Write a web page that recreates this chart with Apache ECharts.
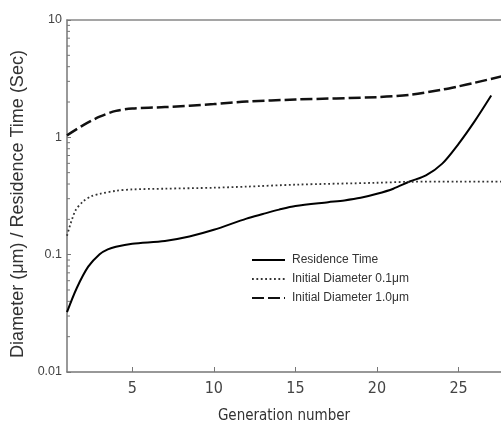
<!DOCTYPE html>
<html><head><meta charset="utf-8">
<script src="https://cdn.jsdelivr.net/npm/echarts@6/dist/echarts.min.js"></script>
<style>html,body{margin:0;padding:0;background:#fff}#c{width:501px;height:423px}</style>
</head><body><div id="c"></div>
<script>
// Data
const resGen = [1, 1.6, 2.3, 3, 3.5, 4, 5, 7, 8.5, 10, 12, 13, 14, 15, 17, 18, 19, 20, 21, 22, 23, 24, 25, 26, 27];
const resVal = [0.0324, 0.052, 0.079, 0.101, 0.111, 0.117, 0.124, 0.131, 0.143, 0.163, 0.203, 0.222, 0.242, 0.26, 0.28, 0.29, 0.305, 0.33, 0.365, 0.42, 0.474, 0.597, 0.88, 1.38, 2.27];
const d01Gen = [1, 1.5, 2, 2.5, 3, 4, 5, 7, 10, 12, 15, 20, 22, 25, 28];
const d01Val = [0.145, 0.235, 0.285, 0.315, 0.33, 0.35, 0.36, 0.365, 0.372, 0.38, 0.395, 0.41, 0.418, 0.42, 0.42];
const d10Gen = [1, 2, 3, 4, 5, 7, 10, 12, 15, 20, 22, 24, 25, 26, 28];
const d10Val = [1.04, 1.27, 1.5, 1.68, 1.76, 1.81, 1.92, 2.02, 2.1, 2.2, 2.3, 2.55, 2.72, 2.92, 3.4];
const xTickValues = [5, 10, 15, 20, 25];
const yTickLabels = ['0.01', '0.1', '1', '10'];
const yMinorTicks = [0.02,0.03,0.04,0.05,0.06,0.07,0.08,0.09,0.2,0.3,0.4,0.5,0.6,0.7,0.8,0.9,2,3,4,5,6,7,8,9];
const seriesNames = ['Residence Time', 'Initial Diameter 0.1\u03bcm', 'Initial Diameter 1.0\u03bcm'];

const zip = (a, b) => a.map((v, i) => [v, b[i]]);
const axisColor = '#777';
const textColor = '#444';
const font = 'Liberation Sans, Arial, sans-serif';
const narrow = 'Liberation Sans Narrow, DejaVu Sans Condensed, Liberation Sans, sans-serif';
const xMin = 1, xMax = 27.6;

const chart = echarts.init(document.getElementById('c'), null, {renderer: 'canvas'});
chart.setOption({
  animation: false,
  backgroundColor: '#fff',
  grid: {left: 67, top: 20, bottom: 51, right: 0, show: false, containLabel: false, outerBoundsMode: 'none'},
  legend: {
    orient: 'vertical', left: 246, top: 249, itemWidth: 33, itemHeight: 10, itemGap: 7,
    data: seriesNames,
    itemStyle: {opacity: 0},
    textStyle: {fontFamily: font, fontSize: 12, color: '#333', padding: [0, 0, 0, 2]}
  },
  xAxis: [{
    type: 'value', min: xMin, max: xMax,
    name: 'Generation number', nameLocation: 'middle', nameGap: 37,
    nameTextStyle: {fontFamily: narrow, fontSize: 15, color: '#333'},
    axisLine: {lineStyle: {color: axisColor, width: 1.5}},
    axisTick: {inside: true, length: 5, customValues: xTickValues, lineStyle: {color: axisColor}},
    axisLabel: {customValues: xTickValues, margin: 9, fontFamily: narrow, fontSize: 16, color: textColor},
    splitLine: {show: false}
  }, {
    type: 'value', min: xMin, max: xMax, position: 'top',
    axisLine: {show: true, lineStyle: {color: '#888', width: 1.5}},
    axisTick: {show: false}, axisLabel: {show: false}, splitLine: {show: false}
  }],
  yAxis: {
    type: 'log', logBase: 10, min: 0.01, max: 10,
    name: 'Diameter (\u03bcm) / Residence Time (Sec)', nameLocation: 'middle', nameGap: 38,
    nameTextStyle: {fontFamily: font, fontSize: 18, color: '#333', padding: [0, 16, 0, 0]},
    axisLine: {lineStyle: {color: axisColor, width: 1.5}},
    axisTick: {inside: true, length: 4, lineStyle: {color: axisColor}},
    axisLabel: {margin: 5, fontFamily: font, fontSize: 12.5, color: textColor,
      formatter: v => { const s = yTickLabels.find(t => Math.abs(parseFloat(t) - v) < v * 1e-6); return s || ''; }},
    splitLine: {show: false}, minorTick: {show: false}
  },
  series: [
    {name: seriesNames[0], type: 'line', data: zip(resGen, resVal), smooth: 0.3, symbol: 'none', showSymbol: false,
     lineStyle: {color: '#000', width: 2, type: 'solid'}, itemStyle: {color: '#000'}},
    {name: seriesNames[1], type: 'line', data: zip(d01Gen, d01Val), smooth: 0.3, symbol: 'none', showSymbol: false,
     lineStyle: {color: '#333', width: 1.8, type: [1.8, 2.6]}, itemStyle: {color: '#333'}},
    {name: seriesNames[2], type: 'line', data: zip(d10Gen, d10Val), smooth: 0.3, symbol: 'none', showSymbol: false,
     lineStyle: {color: '#111', width: 2.5, type: [12, 4]}, itemStyle: {color: '#111'}},
    {type: 'custom', silent: true, data: yMinorTicks.map(v => [xMin, v]),
     renderItem: (params, api) => {
       const p = api.coord([api.value(0), api.value(1)]);
       return {type: 'line', shape: {x1: p[0], y1: p[1], x2: p[0] + 3, y2: p[1]},
               style: {stroke: axisColor, lineWidth: 1}};
     }}
  ]
});
</script></body></html>
